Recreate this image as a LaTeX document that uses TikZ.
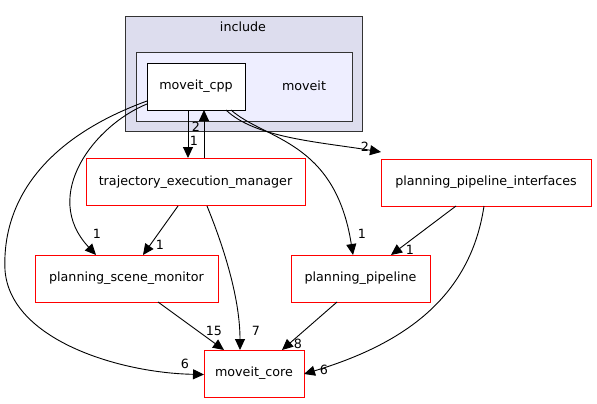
\documentclass[tikz,border=0pt]{standalone}
\usepackage{fontspec}
\setmainfont{DejaVu Sans}
\usetikzlibrary{arrows.meta}
\definecolor{incfill}{HTML}{DDDDEE}
\definecolor{movfill}{HTML}{EEEEFF}
\definecolor{clborder}{HTML}{333333}
\tikzset{
  dir/.style={draw=red, line width=0.9pt, fill=white, minimum height=47pt, inner sep=0pt, font=\fontsize{12.7}{14}\selectfont},
  cpp/.style={draw=black, line width=0.9pt, fill=white, minimum height=47pt, minimum width=98pt, inner sep=0pt, font=\fontsize{12.7}{14}\selectfont},
  dep/.style={-{Triangle[length=11pt,width=10pt]}, line width=0.9pt},
  lbl/.style={font=\fontsize{12.7}{14}\selectfont, inner sep=0pt},
}
\begin{document}
\begin{tikzpicture}[x=1pt,y=-1pt]
\useasboundingbox (0,0) rectangle (597,404);
\fill[white] (0,0) rectangle (597,404);
% clusters
\draw[clborder, fill=incfill, line width=0.9pt] (125,16) rectangle (362,131);
\node[lbl] (inc) at (243,27) {include};
\draw[clborder, fill=movfill, line width=0.9pt] (136,52) rectangle (352,121);
\node[lbl] (mov) at (304,86) {moveit};
% nodes
\node[cpp] (cpp) at (196,86.5) {moveit\_cpp};
\node[dir, minimum width=219pt] (tem) at (195.5,182) {trajectory\_execution\_manager};
\node[dir, minimum width=210pt] (ppi) at (486,182.5) {planning\_pipeline\_interfaces};
\node[dir, minimum width=183pt] (psm) at (126.5,278.5) {planning\_scene\_monitor};
\node[dir, minimum width=139pt] (pp) at (360.5,278.5) {planning\_pipeline};
\node[dir, minimum width=100pt] (core) at (254,373.5) {moveit\_core};
% coordinates on borders
\coordinate (cppA) at (188,110);
\coordinate (temA) at (188,158);
\coordinate (temB) at (204,158);
\coordinate (cppB) at (204,110);
% edges
\draw[dep] (cppA) -- (temA);
\node[lbl] (l1) at (194,140.5) {1};
\draw[dep] (temB) -- (cppB);
\node[lbl] (l2) at (196,127) {2};
\draw[dep] (147,104) coordinate (c1) .. controls (95,125) and (40,195) .. (96,255) coordinate (psmA);
\node[lbl] (l3) at (97,234) {1};
\draw[dep] (147,101) coordinate (c2) .. controls (40,140) and (2,205) .. (5,270) .. controls (10,340) and (120,373) .. (204,374.5) coordinate (coreA);
\node[lbl] (l4) at (185,364) {6};
\draw[dep] (226,110) coordinate (c3) .. controls (255,138) and (320,142) .. (381,152) coordinate (ppiA);
\node[lbl] (l5) at (365,147) {2};
\draw[dep] (231,110) coordinate (c4) .. controls (265,140) and (335,140) .. (353,255) coordinate (ppA);
\node[lbl] (l6) at (362,234) {1};
\draw[dep] (178,206) -- (143,255);
\node[lbl] (l7) at (160,245) {1};
\draw[dep] (207,206) .. controls (225,250) and (240,300) .. (240,350);
\node[lbl] (l8) at (256,331) {7};
\draw[dep] (456,206) -- (391,255);
\node[lbl] (l9) at (410,250) {1};
\draw[dep] (484,206) .. controls (470,300) and (400,345) .. (304,374);
\node[lbl] (l10) at (324,370) {6};
\draw[dep] (158,302) -- (224,350);
\node[lbl] (l11) at (214,331) {15};
\draw[dep] (337,302) -- (282,350);
\node[lbl] (l12) at (298,344) {8};
\end{tikzpicture}
\end{document}
